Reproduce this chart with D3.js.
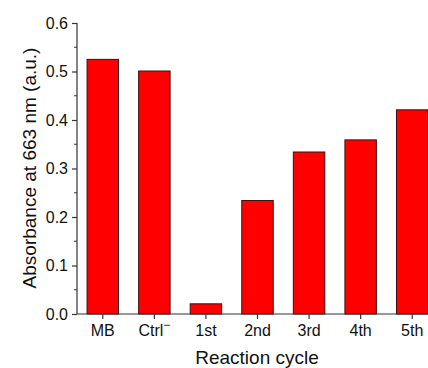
<!DOCTYPE html>
<html><head><meta charset="utf-8">
<script src="https://cdn.jsdelivr.net/npm/d3@7"></script>
<style>body{margin:0;background:#fff}svg{display:block;font-family:"Liberation Sans",Arial,sans-serif}</style>
</head><body>
<svg id="c" width="428" height="368"></svg>
<script>
const categories = ["MB", "Ctrl", "1st", "2nd", "3rd", "4th", "5th"];
const values = [0.525, 0.501, 0.021, 0.234, 0.334, 0.359, 0.421];
const yTicks = [0.0, 0.1, 0.2, 0.3, 0.4, 0.5, 0.6];
const yMinorTicks = [0.05, 0.15, 0.25, 0.35, 0.45, 0.55];
const xTitle = "Reaction cycle";
const yTitle = "Absorbance at 663 nm (a.u.)";

(function () {
const svg = d3.select("#c");
const mLeft = 77, mTop = 23, mBottom = 314, mRight = 438;
const x = d3.scaleBand().domain(categories).range([mLeft, mRight]).paddingInner(0.39).paddingOuter(0.195);
const y = d3.scaleLinear().domain([0, 0.6]).range([mBottom, mTop]);
const axisColor = "#333";

svg.append("g").selectAll("rect").data(values).join("rect")
  .attr("x", (d, i) => x(categories[i]))
  .attr("y", d => y(d))
  .attr("width", x.bandwidth())
  .attr("height", d => y(0) - y(d))
  .attr("fill", "#ff0000")
  .attr("stroke", "#3a1010")
  .attr("stroke-width", 1);

// y axis
const gy = svg.append("g").attr("transform", `translate(${mLeft},0)`)
  .call(d3.axisLeft(y).tickValues(yTicks).tickFormat(d3.format(".1f")).tickSize(5).tickPadding(4));
gy.append("g").selectAll("line").data(yMinorTicks).join("line")
  .attr("x1", -3).attr("x2", 0).attr("y1", d => y(d)).attr("y2", d => y(d))
  .attr("stroke", axisColor);
gy.select(".domain").attr("d", `M0,${mTop}V${mBottom}`);

// x axis
const gx = svg.append("g").attr("transform", `translate(0,${mBottom})`)
  .call(d3.axisBottom(x).tickSize(5).tickPadding(6).tickSizeOuter(0));
gx.select(".domain").attr("d", `M${mLeft},0H${mRight}`);

[gx, gy].forEach(g => {
  g.selectAll(".domain").attr("stroke", axisColor).attr("stroke-width", 1.2);
  g.selectAll(".tick line").attr("stroke", axisColor).attr("stroke-width", 1.2);
  g.selectAll("text").attr("fill", "#111").style("font-size", "16px").style("font-family", "'Liberation Sans', Arial, sans-serif");
});

// superscript minus on Ctrl
gx.selectAll(".tick text").filter(d => d === "Ctrl")
  .append("tspan").attr("baseline-shift", "super").style("font-size", "12px").text("\u2212");

svg.append("text").attr("x", 257).attr("y", 364).attr("text-anchor", "middle")
  .style("font-size", "19px").attr("fill", "#111").text(xTitle);
svg.append("text").attr("transform", "translate(36,168) rotate(-90)").attr("text-anchor", "middle")
  .style("font-size", "19px").attr("fill", "#111").text(yTitle);
})();
</script>
</body></html>
